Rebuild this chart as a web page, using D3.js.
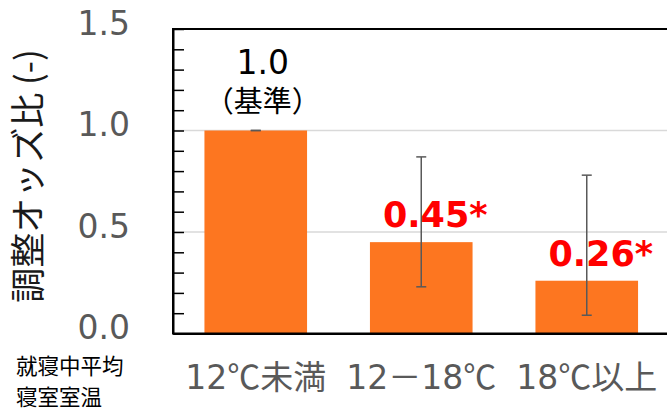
<!DOCTYPE html>
<html>
<head>
<meta charset="utf-8">
<script src="https://cdn.jsdelivr.net/npm/d3@7"></script>
<style>
  html, body { margin: 0; padding: 0; background: #fff; }
  svg { display: block; font-family: "DejaVu Sans", "Noto Sans CJK JP", sans-serif; }
</style>
</head>
<body>
<svg id="chart" width="667" height="410"></svg>
<script>
// Adjusted odds ratio by mean bedroom temperature during sleep
const categories = ["12℃未満", "12－18℃", "18℃以上"];
const oddsRatio  = [1.0, 0.45, 0.26];
const ciLower    = [1.0, 0.23, 0.09];
const ciUpper    = [1.0, 0.87, 0.78];
const valueLabels = ["1.0", "0.45*", "0.26*"];
const yTicks      = [0, 0.5, 1.0, 1.5];
const yTickLabels = ["0.0", "0.5", "1.0", "1.5"];
const yMinorTicks = d3.range(0, 16).map(i => i / 10);
const yTitle = "調整オッズ比 (-)";
const xTitleLines = ["就寝中平均", "寝室室温"];

const LATIN = "'DejaVu Sans', 'Noto Sans CJK JP', sans-serif";
const CJK = "'Noto Sans CJK JP', sans-serif";

const svg = d3.select("#chart");
const plot = { left: 173, right: 669.5, top: 29, bottom: 333.5 };

const x = d3.scaleBand()
  .domain(categories)
  .range([plot.left, plot.right])
  .paddingInner(0.38)
  .paddingOuter(0.19);

const y = d3.scaleLinear()
  .domain([0, 1.5])
  .range([plot.bottom, plot.top]);

const data = categories.map((c, i) => ({
  cat: c, v: oddsRatio[i], lo: ciLower[i], hi: ciUpper[i], label: valueLabels[i]
}));

// gridlines
svg.append("g")
  .selectAll("line")
  .data(yTicks.filter(t => t > 0 && t < 1.5))
  .join("line")
  .attr("x1", plot.left).attr("x2", plot.right)
  .attr("y1", d => y(d)).attr("y2", d => y(d))
  .attr("stroke", "#d9d9d9").attr("stroke-width", 1.5);

// bars
svg.append("g")
  .selectAll("rect")
  .data(data)
  .join("rect")
  .attr("x", d => x(d.cat))
  .attr("y", d => y(d.v))
  .attr("width", x.bandwidth())
  .attr("height", d => y(0) - y(d.v))
  .attr("fill", "#fd7620");

// error bars
const eb = svg.append("g").attr("stroke", "#595959").attr("stroke-width", 1.5);
const cx = d => x(d.cat) + x.bandwidth() / 2;
eb.selectAll(".stem").data(data).join("line")
  .attr("class", "stem")
  .attr("x1", cx).attr("x2", cx)
  .attr("y1", d => y(d.lo)).attr("y2", d => y(d.hi));
eb.selectAll(".capHi").data(data).join("line")
  .attr("class", "capHi")
  .attr("x1", d => cx(d) - 5).attr("x2", d => cx(d) + 5)
  .attr("y1", d => y(d.hi)).attr("y2", d => y(d.hi));
eb.selectAll(".capLo").data(data).join("line")
  .attr("class", "capLo")
  .attr("x1", d => cx(d) - 5).attr("x2", d => cx(d) + 5)
  .attr("y1", d => y(d.lo)).attr("y2", d => y(d.lo));

// plot frame
svg.append("rect")
  .attr("x", plot.left).attr("y", plot.top)
  .attr("width", plot.right - plot.left).attr("height", plot.bottom - plot.top)
  .attr("fill", "none").attr("stroke", "#000").attr("stroke-width", 2);

// y axis: inward minor ticks every 0.1
const yAxisMinor = d3.axisLeft(y)
  .tickValues(yMinorTicks)
  .tickSize(-11)
  .tickFormat("");
const gMinor = svg.append("g").attr("transform", `translate(${plot.left},0)`).call(yAxisMinor);
gMinor.select(".domain").remove();
gMinor.selectAll(".tick line").attr("stroke", "#000").attr("stroke-width", 1.5);

// y axis labels
const yAxis = d3.axisLeft(y)
  .tickValues(yTicks)
  .tickSize(0)
  .tickPadding(43)
  .tickFormat((d, i) => yTickLabels[i]);
const gY = svg.append("g").attr("transform", `translate(${plot.left},0)`).call(yAxis);
gY.select(".domain").attr("stroke", "#000").attr("stroke-width", 2);
gY.selectAll(".tick text")
  .attr("fill", "#595959")
  .attr("font-size", 33)
  .attr("font-family", LATIN)
  .attr("dy", "0.16em");

// x axis line and category labels
const xAxis = d3.axisBottom(x).tickSize(0).tickPadding(32);
const gX = svg.append("g").attr("transform", `translate(0,${plot.bottom})`).call(xAxis);
gX.select(".domain").attr("stroke", "#000").attr("stroke-width", 2);
gX.selectAll(".tick text")
  .attr("fill", "#595959")
  .attr("font-size", 33)
  .attr("font-family", CJK)
  .text(null)
  .each(function(d) {
    // digits in the Latin face, Japanese and symbols in the CJK face
    const t = d3.select(this);
    d.match(/[0-9]+|[^0-9]+/g).forEach(part => {
      t.append("tspan")
        .attr("font-family", /^[0-9]+$/.test(part) ? LATIN : CJK)
        .text(part);
    });
  });

// value labels
svg.append("g")
  .selectAll("text")
  .data(data.slice(1))
  .join("text")
  .attr("x", d => cx(d) + 14)
  .attr("y", d => y(d.v) - 15)
  .attr("text-anchor", "middle")
  .attr("font-size", 35)
  .attr("font-weight", "bold")
  .attr("font-family", LATIN)
  .attr("fill", "#ff0000")
  .text(d => d.label);

// reference category label
const ref = data[0];
svg.append("text")
  .attr("x", cx(ref) + 7)
  .attr("y", y(ref.v) - 57)
  .attr("text-anchor", "middle")
  .attr("font-size", 33)
  .attr("font-family", LATIN)
  .attr("fill", "#000")
  .text(ref.label);
svg.append("text")
  .attr("x", cx(ref) + 7)
  .attr("y", y(ref.v) - 19)
  .attr("text-anchor", "middle")
  .attr("font-size", 29)
  .attr("font-family", CJK)
  .attr("fill", "#000")
  .text("（基準）");

// y axis title
svg.append("text")
  .attr("transform", "translate(41,176) rotate(-90)")
  .attr("text-anchor", "middle")
  .attr("font-size", 35)
  .attr("font-family", CJK)
  .attr("fill", "#1a1a1a")
  .text(yTitle);

// x axis title
svg.append("g")
  .selectAll("text")
  .data(xTitleLines)
  .join("text")
  .attr("x", 16)
  .attr("y", (d, i) => 374 + i * 31)
  .attr("font-size", 21.5)
  .attr("font-family", CJK)
  .attr("fill", "#000")
  .text(d => d);
</script>
</body>
</html>
